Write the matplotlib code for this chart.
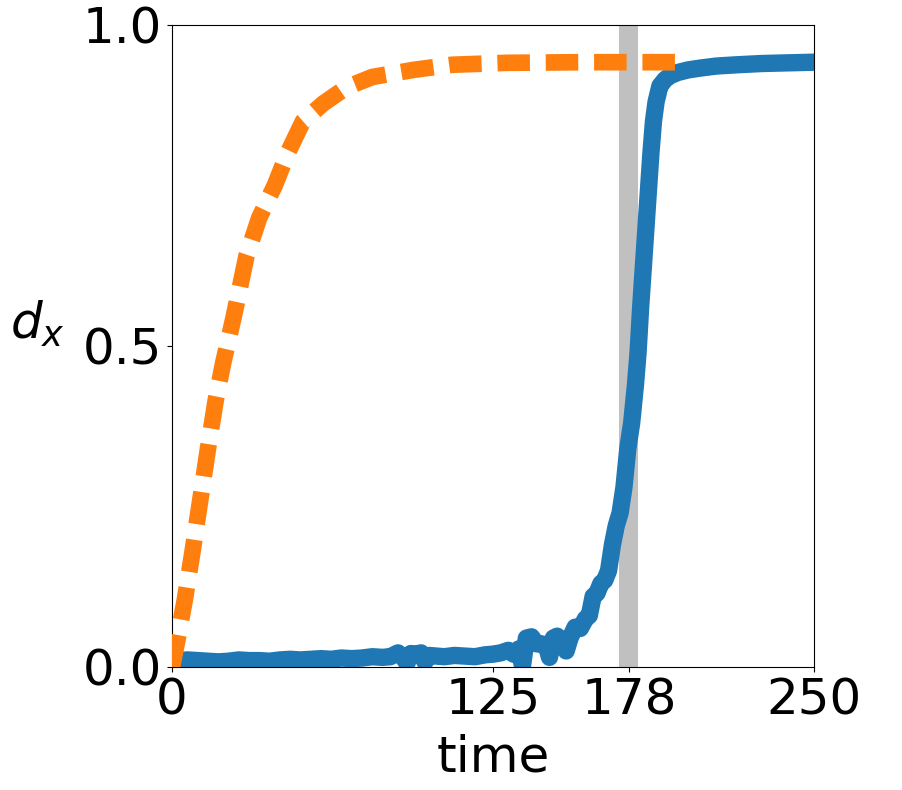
import numpy as np
import matplotlib
matplotlib.use("Agg")
import matplotlib.pyplot as plt

# blue trace (solid)
blue_t = [0, 3, 6, 10, 14, 18, 22, 26, 30, 34, 38, 42, 46, 50, 54, 58, 62, 66, 70, 74,
          78, 82, 85, 88, 90, 91.5, 93, 95, 97, 98.5, 100, 103, 106, 110, 114, 118, 122,
          125, 128, 131, 133, 135, 136.5, 138, 140, 142, 144, 146, 147, 148.5, 150, 152,
          153.5, 155, 157, 159, 161, 162.5, 164, 165.5, 167, 168.5, 170, 171.5, 173,
          174.5, 176, 177.5, 179, 180.5, 181.5, 182.5, 183.5, 184.5, 185.5, 186.5, 187.5,
          188.5, 190, 192, 194, 197, 201, 206, 212, 220, 230, 240, 250]
blue_y = [0.006, 0.010, 0.011, 0.010, 0.009, 0.008, 0.009, 0.011, 0.010, 0.010, 0.009,
          0.011, 0.012, 0.011, 0.012, 0.013, 0.012, 0.014, 0.013, 0.014, 0.016, 0.015,
          0.016, 0.022, 0.015, 0.006, 0.021, 0.020, 0.022, 0.008, 0.018, 0.017, 0.016,
          0.018, 0.017, 0.016, 0.019, 0.020, 0.022, 0.026, 0.020, 0.028, 0.002, 0.045,
          0.047, 0.036, 0.036, 0.030, 0.015, 0.045, 0.048, 0.040, 0.025, 0.045, 0.062,
          0.060, 0.075, 0.080, 0.110, 0.115, 0.130, 0.135, 0.150, 0.190, 0.220, 0.240,
          0.280, 0.340, 0.380, 0.440, 0.490, 0.560, 0.620, 0.680, 0.740, 0.800, 0.850,
          0.880, 0.905, 0.915, 0.921, 0.926, 0.930, 0.933, 0.936, 0.938, 0.940, 0.941,
          0.942]

# orange trace (dashed)
orange_t = [0, 2, 5, 8, 11, 14, 17, 20, 24, 29, 34, 40, 45, 51, 59, 68, 78, 94, 109,
            130, 160, 198]
orange_y = [0.0, 0.04, 0.105, 0.18, 0.26, 0.34, 0.415, 0.475, 0.545, 0.64, 0.70, 0.75,
            0.80, 0.85, 0.878, 0.903, 0.919, 0.93, 0.938, 0.941, 0.942, 0.942]

span = (174, 181.5)
xticks = [0, 125, 178, 250]
yticks = [0.0, 0.5, 1.0]

fig = plt.figure(figsize=(9.02, 7.90), dpi=100)
ax = fig.add_axes([0.1907, 0.1557, 0.7117, 0.8127])

ax.axvspan(span[0], span[1], color='silver', zorder=1, lw=0)
ax.plot(blue_t, blue_y, color='#1f77b4', lw=12.5, zorder=2)
ax.plot(orange_t, orange_y, color='#ff7f0e', lw=12, dashes=(1.95, 0.95), zorder=3)

ax.set_xlim(0, 250)
ax.set_ylim(0, 1)
ax.set_xticks(xticks)
ax.set_xticklabels([str(t) for t in xticks])
ax.set_yticks(yticks)
ax.tick_params(labelsize=36)
ax.set_xlabel('time', fontsize=36, labelpad=6)
ax.set_ylabel('$d_x$', fontsize=36, rotation=0, va='center', ha='center')
ax.yaxis.set_label_coords(-0.21, 0.535)

fig.savefig('out.png', dpi=100)
